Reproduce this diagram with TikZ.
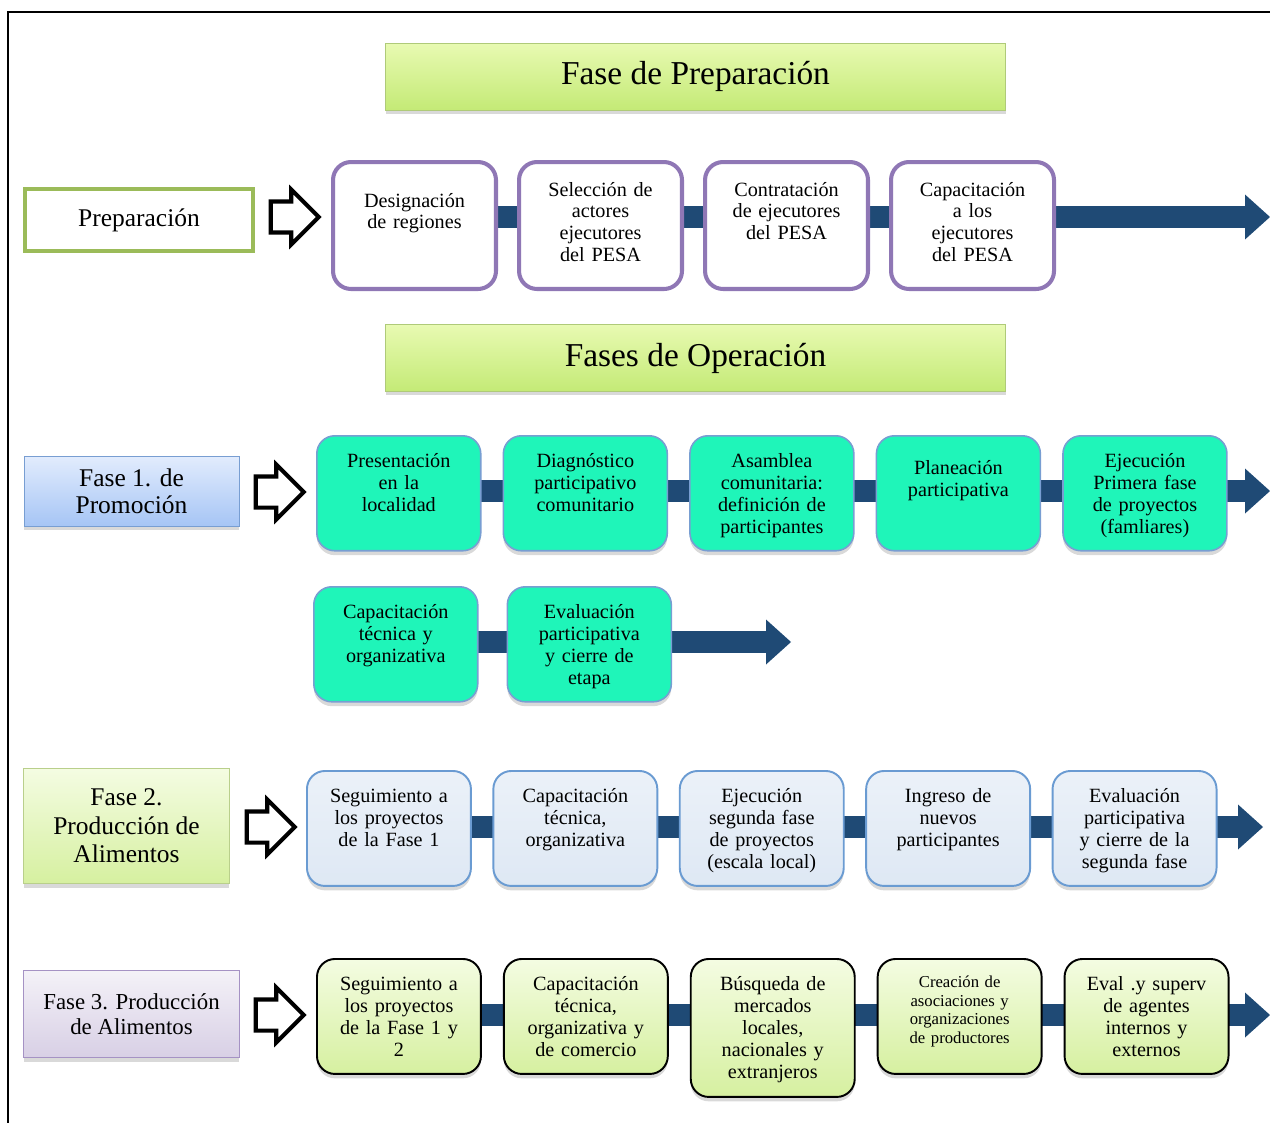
\documentclass[tikz,border=0pt]{standalone}
\usepackage{fontspec}
\setmainfont{Liberation Serif}
\usetikzlibrary{positioning,shapes.arrows,shadows,backgrounds,arrows.meta}

\definecolor{navy}{RGB}{31,74,117}
\definecolor{mint}{RGB}{31,245,185}
\definecolor{mintedge}{RGB}{120,158,210}
\definecolor{prepedge}{RGB}{143,119,181}
\definecolor{oliveedge}{RGB}{155,187,89}
\definecolor{skyedge}{RGB}{106,155,210}
\definecolor{skyfill}{RGB}{222,232,244}
\definecolor{skytop}{RGB}{226,236,253}
\definecolor{skybot}{RGB}{166,197,245}
\definecolor{limetop}{RGB}{232,250,178}
\definecolor{limebot}{RGB}{196,234,118}
\definecolor{palegreen}{RGB}{244,252,226}
\definecolor{leafgreen}{RGB}{214,240,160}

\tikzstyle{title} = [draw=limebot!70!gray, top color=limetop, bottom color=limebot,
  minimum width=12.4cm, minimum height=1.34cm, font=\fontsize{19}{22}\selectfont,
  drop shadow={shadow xshift=0.5pt, shadow yshift=-2pt, opacity=0.3}]
\tikzstyle{phase} = [draw, align=center, font=\fontsize{14.5}{16.2}\selectfont]
\tikzstyle{hollow} = [single arrow, draw=black, line width=2.3pt, fill=white,
  minimum height=0.96cm, minimum width=1.0cm, single arrow head extend=0.24cm, inner sep=0.27cm]
\tikzset{
  soft/.style ={drop shadow={shadow xshift=0pt, shadow yshift=-2.5pt, opacity=0.3}},
  stepbox/.style ={rounded corners=0.36cm, anchor=north west, text width=3.0cm, align=center,
    inner xsep=0.14cm, inner ysep=0pt, font=\fontsize{11.5}{12.5}\selectfont,
    text height=0.64cm, text depth=1.66cm},
  prepbox/.style ={stepbox, draw=prepedge, line width=2.3pt, fill=white, inner xsep=0.13cm,
    text height=0.68cm, text depth=1.86cm},
  promobox/.style ={stepbox, soft, draw=mintedge, line width=0.9pt, fill=mint},
  foodbox/.style ={stepbox, soft, draw=skyedge, line width=1.1pt, top color=skyfill!60!white, bottom color=skyfill},
  marketbox/.style ={stepbox, soft, draw=black, line width=1.1pt, top color=palegreen, bottom color=leafgreen},
  flow/.style ={draw=navy, line width=0.44cm, -{Triangle[length=0.5cm,width=0.9cm,line width=0pt]}}
}

\begin{document}
\begin{tikzpicture}[x=0.02cm, y=-0.02cm]
  \useasboundingbox (0,0) rectangle (1270,1122);
  \draw[line width=1.2pt] (8,1130) -- (8,12) -- (1280,12);

  % preparacion
  \node[title] (tprep) at (695.5,76.5) {Fase de Preparación};
  \node[phase, draw=oliveedge, line width=2.3pt, fill=white, minimum width=4.56cm, minimum height=1.24cm] (l0) at (139,220) {Preparación};
  \node[hollow] (h0) at (287,217) {};
  \node[prepbox, text height=0.9cm, text depth=1.64cm] (d1) at (331,160) {Designación\\de regiones};
  \node[prepbox, below right=0cm and 0.38cm of d1.north east] (d2) {Selección de\\actores\\ejecutores\\del PESA};
  \node[prepbox, below right=0cm and 0.38cm of d2.north east] (d3) {Contratación\\de ejecutores\\del PESA};
  \node[prepbox, below right=0cm and 0.38cm of d3.north east] (d4) {Capacitación\\a los\\ejecutores\\del PESA};
  \coordinate (e0) at (1270,217);

  % operacion
  \node[title] (top) at (695.5,358) {Fases de Operación};

  % fase 1
  \node[phase, soft, draw=mintedge, top color=skytop, bottom color=skybot, minimum width=4.3cm, minimum height=1.4cm, font=\fontsize{14.5}{15.4}\selectfont] (l1) at (131.5,491) {Fase 1. de\\Promoción};
  \node[hollow] (h1) at (272,492) {};
  \node[promobox] (p1) at (316,435) {Presentación\\en la\\localidad};
  \node[promobox, below right=0cm and 0.42cm of p1.north east] (p2) {Diagnóstico\\participativo\\comunitario};
  \node[promobox, below right=0cm and 0.42cm of p2.north east] (p3) {Asamblea\\comunitaria:\\definición de\\participantes};
  \node[promobox, below right=0cm and 0.42cm of p3.north east, text height=0.78cm, text depth=1.52cm] (p4) {Planeación\\participativa};
  \node[promobox, below right=0cm and 0.42cm of p4.north east] (p5) {Ejecución\\Primera fase\\de proyectos\\(famliares)};
  \coordinate (e1) at (1270,491);
  \node[promobox] (p6) at (313,586) {Capacitación\\técnica y\\organizativa};
  \node[promobox, below right=0cm and 0.56cm of p6.north east] (p7) {Evaluación\\participativa\\y cierre de\\etapa};
  \coordinate (e2) at (791,642);

  % fase 2
  \node[phase, soft, draw=oliveedge!70!white, top color=palegreen, bottom color=leafgreen, minimum width=4.12cm, minimum height=2.3cm] (l2) at (126.5,826) {Fase 2.\\Producción de\\Alimentos};
  \node[hollow] (h2) at (263,827) {};
  \node[foodbox] (f1) at (306,770) {Seguimiento a\\los proyectos\\de la Fase 1};
  \node[foodbox, below right=0cm and 0.41cm of f1.north east] (f2) {Capacitación\\técnica,\\organizativa};
  \node[foodbox, below right=0cm and 0.41cm of f2.north east] (f3) {Ejecución\\segunda fase\\de proyectos\\(escala local)};
  \node[foodbox, below right=0cm and 0.41cm of f3.north east] (f4) {Ingreso de\\nuevos\\participantes};
  \node[foodbox, below right=0cm and 0.41cm of f4.north east] (f5) {Evaluación\\participativa\\y cierre de la\\segunda fase};
  \coordinate (e3) at (1263,827);

  % fase 3
  \node[phase, soft, draw=prepedge!80!white, top color=prepedge!10, bottom color=prepedge!35, minimum width=4.32cm, minimum height=1.74cm, font=\fontsize{13}{14.2}\selectfont] (l3) at (131.5,1014) {Fase 3. Producción\\de Alimentos};
  \node[hollow] (h3) at (272,1015) {};
  \node[marketbox] (m1) at (316,958) {Seguimiento a\\los proyectos\\de la Fase 1 y\\2};
  \node[marketbox, below right=0cm and 0.42cm of m1.north east] (m2) {Capacitación\\técnica,\\organizativa y\\de comercio};
  \node[marketbox, below right=0cm and 0.42cm of m2.north east, text depth=2.12cm] (m3) {Búsqueda de\\mercados\\locales,\\nacionales y\\extranjeros};
  \node[marketbox, below right=0cm and 0.42cm of m3.north east, font=\fontsize{9.5}{10.5}\selectfont, text height=0.58cm, text depth=1.72cm] (m4) {Creación de\\asociaciones y\\organizaciones\\de productores};
  \node[marketbox, below right=0cm and 0.42cm of m4.north east] (m5) {Eval .y superv\\de agentes\\internos y\\externos};
  \coordinate (e4) at (1270,1015);

  \begin{scope}[on background layer]
    \draw[flow] (d1.west |- e0) -- (e0);
    \draw[flow] (p1.west |- e1) -- (e1);
    \draw[flow] (p6.west |- e2) -- (e2);
    \draw[flow] (f1.west |- e3) -- (e3);
    \draw[flow] (m1.west |- e4) -- (e4);
  \end{scope}

\end{tikzpicture}
\end{document}
